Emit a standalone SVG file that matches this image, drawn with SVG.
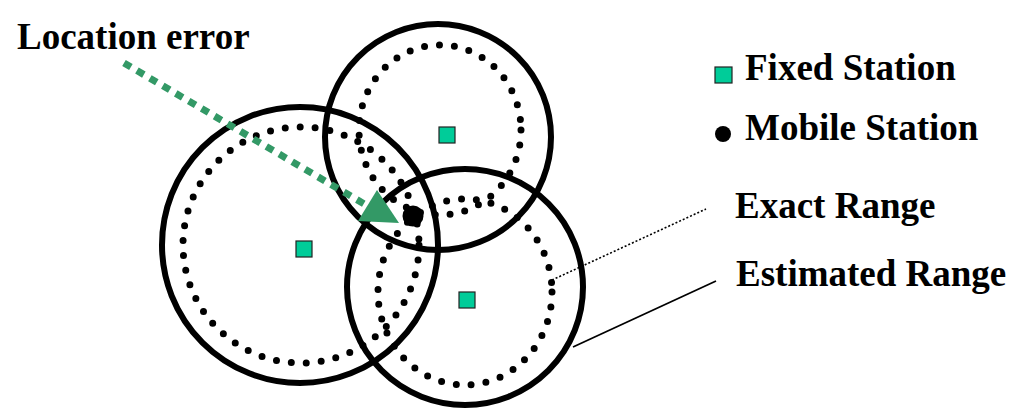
<svg xmlns="http://www.w3.org/2000/svg" width="1011" height="413" viewBox="0 0 1011 413">
<style>
.solid{fill:none;stroke:#000;stroke-width:6}
.dots{fill:none;stroke:#000;stroke-width:7;stroke-dasharray:0 15;stroke-linecap:round}
.fixed{fill:#00CC99;stroke:#222;stroke-width:1.2}
.lbl{font-family:"Liberation Serif","Times New Roman",serif;font-weight:bold;font-size:37px;fill:#000}
</style>
<rect width="1011" height="413" fill="#fff"/>
<g id="ranges">
<circle class="solid" cx="300" cy="245" r="138"/>
<circle class="solid" cx="438" cy="137" r="113"/>
<circle class="solid" cx="465" cy="287" r="118"/>
<circle class="dots" cx="301" cy="245" r="118"/>
<ellipse class="dots" cx="440" cy="130" rx="81" ry="85"/>
<ellipse class="dots" cx="465" cy="292" rx="87" ry="93"/>
</g>
<g id="fixed-stations">
<rect class="fixed" x="296" y="241" width="16" height="16"/>
<rect class="fixed" x="439" y="127" width="16" height="16"/>
<rect class="fixed" x="459" y="292" width="16" height="16"/>
</g>
<g id="mobile-station">
<circle cx="413" cy="216" r="10.5" fill="#000"/>
</g>
<g id="connectors">
<line x1="124" y1="63" x2="366" y2="205" stroke="#339966" stroke-width="7" stroke-dasharray="8 7"/>
<polygon points="377,190 358,221 399,223" fill="#339966"/>
<line x1="552" y1="280" x2="706" y2="209" stroke="#000" stroke-width="1.6" stroke-dasharray="2 2"/>
<line x1="573" y1="347" x2="716" y2="281" stroke="#000" stroke-width="1.8"/>
</g>
<g id="label-location-error">
<text class="lbl" x="17" y="49">Location error</text>
</g>
<g id="legend-fixed">
<rect class="fixed" x="715" y="67" width="17" height="16"/>
<text class="lbl" x="745" y="80">Fixed Station</text>
</g>
<g id="legend-mobile">
<circle cx="723" cy="134" r="8" fill="#000"/>
<text class="lbl" x="745" y="140">Mobile Station</text>
</g>
<g id="label-exact">
<text class="lbl" x="735" y="218">Exact Range</text>
</g>
<g id="label-estimated">
<text class="lbl" x="736" y="286">Estimated Range</text>
</g>
</svg>
